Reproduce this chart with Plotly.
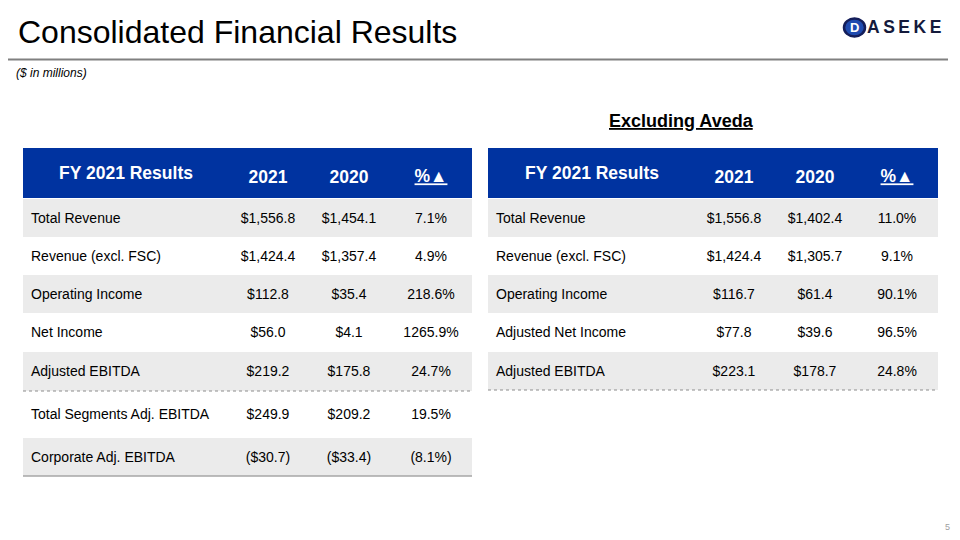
import plotly.graph_objects as go

# ---- data ----
col_headers = ["FY 2021 Results", "2021", "2020", "<u>%▲</u>"]

left_labels = ["Total Revenue", "Revenue (excl. FSC)", "Operating Income", "Net Income",
               "Adjusted EBITDA", "Total Segments Adj. EBITDA", "Corporate Adj. EBITDA"]
left_2021 = ["$1,556.8", "$1,424.4", "$112.8", "$56.0", "$219.2", "$249.9", "($30.7)"]
left_2020 = ["$1,454.1", "$1,357.4", "$35.4", "$4.1", "$175.8", "$209.2", "($33.4)"]
left_pct = ["7.1%", "4.9%", "218.6%", "1265.9%", "24.7%", "19.5%", "(8.1%)"]

right_labels = ["Total Revenue", "Revenue (excl. FSC)", "Operating Income", "Adjusted Net Income",
                "Adjusted EBITDA"]
right_2021 = ["$1,556.8", "$1,424.4", "$116.7", "$77.8", "$223.1"]
right_2020 = ["$1,402.4", "$1,305.7", "$61.4", "$39.6", "$178.7"]
right_pct = ["11.0%", "9.1%", "90.1%", "96.5%", "24.8%"]

# ---- layout geometry (pixels of the 960x540 slide) ----
OFF = 8  # browser body margin
W, H = 960 - OFF, 540 - OFF
BLUE = "#0033A0"
GRAY = "#EBEBEB"
WHITE = "#FFFFFF"
FONT = "Liberation Sans, Arial, sans-serif"
TXT = "#000000"

HEAD_TOP, HEAD_BOT = 148, 198
LEFT_X0, LEFT_X1 = 23, 472
RIGHT_X0, RIGHT_X1 = 488, 938
COL_CENTERS = [126, 268, 349, 431]   # relative to left table; right table is shifted
SHIFT = RIGHT_X0 - LEFT_X0 + 1
LABEL_PAD = 8
TEXT_DY = 1
left_row_edges = [199, 237, 275, 313, 352, 391, 438, 476]
right_row_edges = [199, 237, 275, 313, 352, 390]
left_fill = [GRAY, WHITE, GRAY, WHITE, GRAY, WHITE, GRAY]
right_fill = [GRAY, WHITE, GRAY, WHITE, GRAY]

fig = go.Figure()


def add_table(x0, x1, labels, c1, c2, c3, edges, fill_colors, dx):
    centers = [(edges[i] + edges[i + 1]) / 2 for i in range(len(labels))]
    heights = [edges[i + 1] - edges[i] for i in range(len(labels))]
    text_y = [c + TEXT_DY for c in centers]
    # row backgrounds
    fig.add_trace(go.Bar(
        orientation="h", y=centers, x=[x1 - x0] * len(labels), base=[x0] * len(labels),
        width=heights, marker=dict(color=fill_colors, line=dict(width=0)),
        hoverinfo="skip", showlegend=False))
    # header background
    fig.add_trace(go.Bar(
        orientation="h", y=[(HEAD_TOP + HEAD_BOT) / 2], x=[x1 - x0], base=[x0],
        width=[HEAD_BOT - HEAD_TOP], marker=dict(color=BLUE, line=dict(width=0)),
        hoverinfo="skip", showlegend=False))
    # header texts
    fig.add_trace(go.Scatter(
        mode="text", x=[COL_CENTERS[0] + dx], y=[175], text=[f"<b>{col_headers[0]}</b>"],
        textposition="middle center", textfont=dict(family=FONT, size=17.5, color="white"),
        hoverinfo="skip", showlegend=False, cliponaxis=False))
    fig.add_trace(go.Scatter(
        mode="text", x=[c + dx for c in COL_CENTERS[1:]], y=[179, 179, 178],
        text=[f"<b>{h}</b>" for h in col_headers[1:]],
        textposition="middle center", textfont=dict(family=FONT, size=17.5, color="white"),
        hoverinfo="skip", showlegend=False, cliponaxis=False))
    # row labels
    fig.add_trace(go.Scatter(
        mode="text", x=[x0 + LABEL_PAD] * len(labels), y=text_y, text=labels,
        textposition="middle right", textfont=dict(family=FONT, size=14, color=TXT),
        hoverinfo="skip", showlegend=False, cliponaxis=False))
    # numeric columns
    for ci, vals in zip(COL_CENTERS[1:], (c1, c2, c3)):
        fig.add_trace(go.Scatter(
            mode="text", x=[ci + dx] * len(vals), y=text_y, text=vals,
            textposition="middle center", textfont=dict(family=FONT, size=14, color=TXT),
            hoverinfo="skip", showlegend=False, cliponaxis=False))


add_table(LEFT_X0, LEFT_X1, left_labels, left_2021, left_2020, left_pct,
          left_row_edges, left_fill, 0)
add_table(RIGHT_X0, RIGHT_X1, right_labels, right_2021, right_2020, right_pct,
          right_row_edges, right_fill, SHIFT)


def hline(x0, x1, y, color, width, dash="solid"):
    return dict(type="line", xref="x", yref="y", x0=x0, x1=x1, y0=y, y1=y,
                line=dict(color=color, width=width, dash=dash), layer="above")


shapes = [
    hline(8, 948, 59.5, "#808080", 2),
    hline(LEFT_X0, LEFT_X1, left_row_edges[5], "#8C8C8C", 1, "dot"),
    hline(RIGHT_X0, RIGHT_X1, right_row_edges[-1], "#8C8C8C", 1, "dot"),
    hline(LEFT_X0, LEFT_X1, left_row_edges[-1], "#A6A6A6", 1.5),
    dict(type="circle", xref="x", yref="y", x0=844, x1=865, y0=18.5, y1=36.5,
         fillcolor="#1F4BB0", line=dict(color="#141E5A", width=2.5), layer="above"),
]


def note(text, x, y, size, anchor="left", color="#000000"):
    return dict(text=text, x=x, y=y, xref="x", yref="y", xanchor=anchor, yanchor="middle",
                showarrow=False, font=dict(family=FONT, size=size, color=color))


annotations = [
    note("Consolidated Financial Results", 16, 32, 32),
    note("<i>($ in millions)</i>", 14, 73, 12),
    note("<b><u>Excluding Aveda</u></b>", 681, 121, 18, "center"),
    note("<b>D</b>", 854.5, 27.5, 13, "center", "white"),
    note("<b>A\u2009S\u2009E\u2009K\u2009E</b>", 865, 27, 17.5, "left", "#141A3C"),
    note("5", 947, 527, 9, "center", "#A0A0A0"),
]

fig.update_layout(
    width=W, height=H, margin=dict(l=0, r=0, t=0, b=0),
    paper_bgcolor="white", plot_bgcolor="white",
    xaxis=dict(range=[OFF, 960], visible=False, fixedrange=True),
    yaxis=dict(range=[540, OFF], visible=False, fixedrange=True),
    barmode="overlay", bargap=0,
    shapes=shapes, annotations=annotations, showlegend=False,
)

fig.write_html("out.html")
